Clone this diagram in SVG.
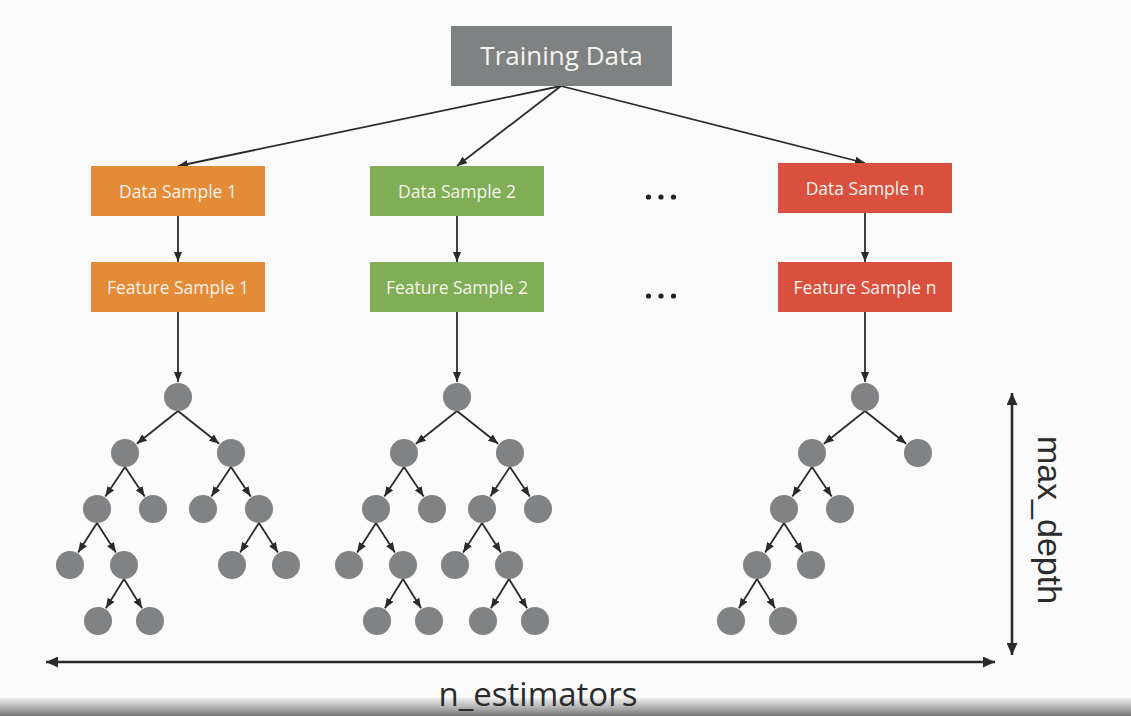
<svg xmlns="http://www.w3.org/2000/svg" width="1131" height="716" viewBox="0 0 1131 716">
<defs>
<style>
.bg{fill:#fafafa}
.box text{font-family:"Open Sans","Liberation Sans",sans-serif;fill:#f7f3ec;text-anchor:middle}
.lbl{font-size:17.5px}
.orange{fill:#e38b36}
.green{fill:#80ae57}
.red{fill:#d9503e}
.gray{fill:#7f8283}
.leaf{fill:#808283}
.con line{stroke:#2a2a2a;stroke-width:1.8;marker-end:url(#ah)}
.axis{stroke:#2a2a2a;stroke-width:2.6;fill:none}
.dot{fill:#222}
</style>
<marker id="ah" markerUnits="userSpaceOnUse" viewBox="0 0 10 8" markerWidth="10" markerHeight="8" refX="10" refY="4" orient="auto">
<path d="M0,0 L10,4 L0,8 z" fill="#2a2a2a"/>
</marker>
<marker id="big" markerUnits="userSpaceOnUse" viewBox="0 0 12 11" markerWidth="12" markerHeight="11" refX="12" refY="5.5" orient="auto-start-reverse">
<path d="M0,0 L12,5.5 L0,11 z" fill="#2a2a2a"/>
</marker>
<linearGradient id="bar" x1="0" y1="0" x2="0" y2="1">
<stop offset="0" stop-color="#ececec"/>
<stop offset="0.5" stop-color="#b4b4b4"/>
<stop offset="1" stop-color="#767676"/>
</linearGradient>
</defs>
<rect class="bg" x="0" y="0" width="1131" height="716"/>
<rect x="0" y="698" width="1131" height="18" fill="url(#bar)"/>

<g id="connectors" class="con">
<line x1="561" y1="86" x2="178" y2="166"/>
<line x1="561" y1="86" x2="457" y2="166"/>
<line x1="561" y1="86" x2="865" y2="163"/>
<line x1="178" y1="216" x2="178" y2="262"/>
<line x1="457" y1="216" x2="457" y2="262"/>
<line x1="865" y1="213" x2="865" y2="262"/>
<line x1="178" y1="312" x2="178" y2="382"/>
<line x1="457" y1="312" x2="457" y2="382"/>
<line x1="865" y1="312" x2="865" y2="382"/>
<!-- tree 1 -->
<line x1="178" y1="411" x2="136.8" y2="443.7"/>
<line x1="178" y1="411" x2="219.2" y2="443.7"/>
<line x1="125" y1="467" x2="105.3" y2="496.5"/>
<line x1="125" y1="467" x2="144.7" y2="496.5"/>
<line x1="231" y1="467" x2="211.3" y2="496.5"/>
<line x1="231" y1="467" x2="250.7" y2="496.5"/>
<line x1="97" y1="523" x2="78.1" y2="552.4"/>
<line x1="97" y1="523" x2="115.9" y2="552.4"/>
<line x1="259" y1="523" x2="240.1" y2="552.4"/>
<line x1="259" y1="523" x2="277.9" y2="552.4"/>
<line x1="124" y1="579" x2="105.9" y2="608.3"/>
<line x1="124" y1="579" x2="142.1" y2="608.3"/>
<!-- tree 2 -->
<line x1="457" y1="411" x2="415.8" y2="443.7"/>
<line x1="457" y1="411" x2="498.2" y2="443.7"/>
<line x1="404" y1="467" x2="384.3" y2="496.5"/>
<line x1="404" y1="467" x2="423.7" y2="496.5"/>
<line x1="510" y1="467" x2="490.3" y2="496.5"/>
<line x1="510" y1="467" x2="529.7" y2="496.5"/>
<line x1="376" y1="523" x2="357.1" y2="552.4"/>
<line x1="376" y1="523" x2="394.9" y2="552.4"/>
<line x1="482" y1="523" x2="463.1" y2="552.4"/>
<line x1="482" y1="523" x2="500.9" y2="552.4"/>
<line x1="403" y1="579" x2="384.9" y2="608.3"/>
<line x1="403" y1="579" x2="421.1" y2="608.3"/>
<line x1="509" y1="579" x2="490.9" y2="608.3"/>
<line x1="509" y1="579" x2="527.1" y2="608.3"/>
<!-- tree 3 -->
<line x1="865" y1="411" x2="823.8" y2="443.7"/>
<line x1="865" y1="411" x2="906.2" y2="443.7"/>
<line x1="812" y1="467" x2="792.3" y2="496.5"/>
<line x1="812" y1="467" x2="831.7" y2="496.5"/>
<line x1="784" y1="523" x2="765.1" y2="552.4"/>
<line x1="784" y1="523" x2="802.9" y2="552.4"/>
<line x1="757" y1="579" x2="738.9" y2="608.3"/>
<line x1="757" y1="579" x2="775.1" y2="608.3"/>
</g>

<g id="training-data" class="box">
<rect class="gray" x="451" y="26" width="221" height="60"/>
<text x="561.5" y="65" font-size="26">Training Data</text>
</g>
<g id="data-sample-1" class="box">
<rect class="orange" x="91" y="166" width="174" height="50"/>
<text class="lbl" x="178" y="197.5">Data Sample 1</text>
</g>
<g id="data-sample-2" class="box">
<rect class="green" x="370" y="166" width="174" height="50"/>
<text class="lbl" x="457" y="197.5">Data Sample 2</text>
</g>
<g id="data-sample-n" class="box">
<rect class="red" x="778" y="163" width="174" height="50"/>
<text class="lbl" x="865" y="194.5">Data Sample n</text>
</g>
<g id="feature-sample-1" class="box">
<rect class="orange" x="91" y="262" width="174" height="50"/>
<text class="lbl" x="178" y="293.5">Feature Sample 1</text>
</g>
<g id="feature-sample-2" class="box">
<rect class="green" x="370" y="262" width="174" height="50"/>
<text class="lbl" x="457" y="293.5">Feature Sample 2</text>
</g>
<g id="feature-sample-n" class="box">
<rect class="red" x="778" y="262" width="174" height="50"/>
<text class="lbl" x="865" y="293.5">Feature Sample n</text>
</g>

<g id="ellipsis-1">
<circle class="dot" cx="648.5" cy="197" r="2.6"/>
<circle class="dot" cx="661" cy="197" r="2.6"/>
<circle class="dot" cx="673.5" cy="197" r="2.6"/>
</g>
<g id="ellipsis-2">
<circle class="dot" cx="648.5" cy="296" r="2.6"/>
<circle class="dot" cx="661" cy="296" r="2.6"/>
<circle class="dot" cx="673.5" cy="296" r="2.6"/>
</g>

<g id="tree-1" class="leaf">
<g id="t1-n0"><circle cx="178" cy="397" r="14"/></g>
<g id="t1-n1"><circle cx="125" cy="453" r="14"/></g>
<g id="t1-n2"><circle cx="231" cy="453" r="14"/></g>
<g id="t1-n3"><circle cx="97" cy="509" r="14"/></g>
<g id="t1-n4"><circle cx="153" cy="509" r="14"/></g>
<g id="t1-n5"><circle cx="203" cy="509" r="14"/></g>
<g id="t1-n6"><circle cx="259" cy="509" r="14"/></g>
<g id="t1-n7"><circle cx="70" cy="565" r="14"/></g>
<g id="t1-n8"><circle cx="124" cy="565" r="14"/></g>
<g id="t1-n9"><circle cx="232" cy="565" r="14"/></g>
<g id="t1-n10"><circle cx="286" cy="565" r="14"/></g>
<g id="t1-n11"><circle cx="98" cy="621" r="14"/></g>
<g id="t1-n12"><circle cx="150" cy="621" r="14"/></g>
</g>
<g id="tree-2" class="leaf">
<g id="t2-n0"><circle cx="457" cy="397" r="14"/></g>
<g id="t2-n1"><circle cx="404" cy="453" r="14"/></g>
<g id="t2-n2"><circle cx="510" cy="453" r="14"/></g>
<g id="t2-n3"><circle cx="376" cy="509" r="14"/></g>
<g id="t2-n4"><circle cx="432" cy="509" r="14"/></g>
<g id="t2-n5"><circle cx="482" cy="509" r="14"/></g>
<g id="t2-n6"><circle cx="538" cy="509" r="14"/></g>
<g id="t2-n7"><circle cx="349" cy="565" r="14"/></g>
<g id="t2-n8"><circle cx="403" cy="565" r="14"/></g>
<g id="t2-n9"><circle cx="455" cy="565" r="14"/></g>
<g id="t2-n10"><circle cx="509" cy="565" r="14"/></g>
<g id="t2-n11"><circle cx="377" cy="621" r="14"/></g>
<g id="t2-n12"><circle cx="429" cy="621" r="14"/></g>
<g id="t2-n13"><circle cx="483" cy="621" r="14"/></g>
<g id="t2-n14"><circle cx="535" cy="621" r="14"/></g>
</g>
<g id="tree-3" class="leaf">
<g id="t3-n0"><circle cx="865" cy="397" r="14"/></g>
<g id="t3-n1"><circle cx="812" cy="453" r="14"/></g>
<g id="t3-n2"><circle cx="918" cy="453" r="14"/></g>
<g id="t3-n3"><circle cx="784" cy="509" r="14"/></g>
<g id="t3-n4"><circle cx="840" cy="509" r="14"/></g>
<g id="t3-n5"><circle cx="757" cy="565" r="14"/></g>
<g id="t3-n6"><circle cx="811" cy="565" r="14"/></g>
<g id="t3-n7"><circle cx="731" cy="621" r="14"/></g>
<g id="t3-n8"><circle cx="783" cy="621" r="14"/></g>
</g>

<g id="max-depth">
<line class="axis" x1="1012" y1="393" x2="1012" y2="655" marker-start="url(#big)" marker-end="url(#big)"/>
<text transform="translate(1038,520) rotate(90)" text-anchor="middle" font-family="'Liberation Sans',Arial,sans-serif" font-size="34" fill="#2b2b2b">max_depth</text>
</g>
<g id="n-estimators">
<line class="axis" x1="46" y1="662" x2="995" y2="662" marker-start="url(#big)" marker-end="url(#big)"/>
<text x="538" y="706" text-anchor="middle" font-family="'Open Sans','Liberation Sans',sans-serif" font-size="33" fill="#2b2b2b">n_estimators</text>
</g>
</svg>
